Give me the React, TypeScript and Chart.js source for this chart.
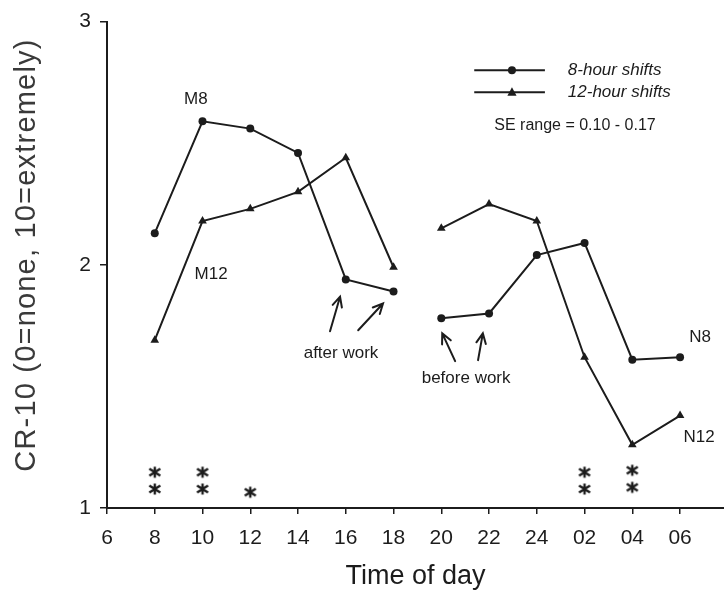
import { useEffect, useRef } from "react";
import { Chart, registerables } from "chart.js";

Chart.register(...registerables);

// Time-of-day axis labels (two-hourly, from 06:00 through the night to 06:00)
const hourLabels = ["6", "8", "10", "12", "14", "16", "18", "20", "22", "24", "02", "04", "06"];
const yTicks = [1, 2, 3];

// Times at which CR-10 ratings were collected
const measuredTimes = ["8", "10", "12", "14", "16", "18", "20", "22", "24", "02", "04", "06"];
const eightHour = [2.13, 2.59, 2.56, 2.46, 1.94, 1.89, 1.78, 1.8, 2.04, 2.09, 1.61, 1.62];
const twelveHour = [1.69, 2.18, 2.23, 2.3, 2.44, 1.99, 2.15, 2.25, 2.18, 1.62, 1.26, 1.38];

// Significance markers (asterisks) stacked above the time axis
const sigTimes = ["8", "8", "10", "10", "12", "02", "02", "04", "04"];
const sigLevels = [1.147, 1.078, 1.147, 1.078, 1.065, 1.147, 1.078, 1.155, 1.085];

// Day shift ends at 18, night shift starts at 20: no line across that break
const breakAfter = "18";

const yTitle = "CR-10 (0=none, 10=extremely)";
const xTitle = "Time of day";

const FONT = "'Liberation Sans', Arial, Helvetica, sans-serif";
const INK = "#1c1c1c";

const idx = (t: string) => hourLabels.indexOf(t);

type Note = { text: string; x: number; y: number; size: number };
const notes: Note[] = [
  { text: "M8", x: 1.86, y: 2.68, size: 17 },
  { text: "M12", x: 2.18, y: 1.96, size: 17 },
  { text: "N8", x: 12.42, y: 1.7, size: 17 },
  { text: "N12", x: 12.4, y: 1.29, size: 17 },
  { text: "after work", x: 4.9, y: 1.637, size: 17 },
  { text: "before work", x: 7.52, y: 1.535, size: 17 },
  { text: "SE range = 0.10 - 0.17", x: 9.8, y: 2.571, size: 16 },
];

// [tailX, tailY, headX, headY] in axis units
const arrows = [
  [4.67, 1.727, 4.88, 1.869],
  [5.26, 1.731, 5.78, 1.841],
  [7.29, 1.604, 7.02, 1.718],
  [7.77, 1.608, 7.87, 1.718],
];

// Legend rows: line from x0 to x1 with the marker at xm, label starting at xt
const legendRows = [
  { label: "8-hour shifts", style: "circle", y: 2.8 },
  { label: "12-hour shifts", style: "triangle", y: 2.71 },
];
const legendLine = { x0: 7.69, x1: 9.17, xm: 8.48, xt: 9.65 };

function makeAsterisk(): HTMLCanvasElement {
  const c = document.createElement("canvas");
  c.width = 14;
  c.height = 14;
  const g = c.getContext("2d")!;
  g.strokeStyle = INK;
  g.lineWidth = 2.4;
  g.lineCap = "butt";
  g.beginPath();
  g.moveTo(7, 1.5);
  g.lineTo(7, 12.5);
  g.moveTo(1.5, 3.5);
  g.lineTo(12.5, 10.5);
  g.moveTo(1.5, 10.5);
  g.lineTo(12.5, 3.5);
  g.stroke();
  return c;
}

function drawMarker(ctx: CanvasRenderingContext2D, style: string, x: number, y: number) {
  ctx.fillStyle = INK;
  ctx.beginPath();
  if (style === "circle") {
    ctx.arc(x, y, 4, 0, Math.PI * 2);
  } else {
    ctx.moveTo(x, y - 5);
    ctx.lineTo(x + 4.6, y + 3.5);
    ctx.lineTo(x - 4.6, y + 3.5);
    ctx.closePath();
  }
  ctx.fill();
}

const annotationPlugin = {
  id: "shiftAnnotations",
  afterDraw(chart: Chart) {
    const { ctx } = chart;
    const xs = chart.scales.x;
    const ys = chart.scales.y;
    ctx.save();
    ctx.fillStyle = INK;
    ctx.textBaseline = "middle";

    // vertical axis title, slightly spaced out
    ctx.save();
    ctx.translate(27, ys.getPixelForValue(2.04));
    ctx.rotate(-Math.PI / 2);
    ctx.font = `29px ${FONT}`;
    ctx.fillStyle = "#3a3a3a";
    (ctx as any).letterSpacing = "1.2px";
    ctx.textAlign = "center";
    ctx.fillText(yTitle, 0, 0);
    ctx.restore();

    for (const n of notes) {
      ctx.font = `${n.size}px ${FONT}`;
      ctx.textAlign = "center";
      ctx.fillText(n.text, xs.getPixelForValue(n.x), ys.getPixelForValue(n.y));
    }

    ctx.strokeStyle = INK;
    ctx.lineWidth = 2;
    ctx.lineCap = "round";
    for (const [tx, ty, hx, hy] of arrows) {
      const x0 = xs.getPixelForValue(tx);
      const y0 = ys.getPixelForValue(ty);
      const x1 = xs.getPixelForValue(hx);
      const y1 = ys.getPixelForValue(hy);
      const ang = Math.atan2(y1 - y0, x1 - x0);
      const len = 11;
      ctx.beginPath();
      ctx.moveTo(x0, y0);
      ctx.lineTo(x1, y1);
      ctx.moveTo(x1 - len * Math.cos(ang - 0.45), y1 - len * Math.sin(ang - 0.45));
      ctx.lineTo(x1, y1);
      ctx.lineTo(x1 - len * Math.cos(ang + 0.45), y1 - len * Math.sin(ang + 0.45));
      ctx.stroke();
    }

    // legend
    ctx.lineWidth = 2;
    ctx.lineCap = "butt";
    ctx.textAlign = "left";
    ctx.font = `italic 17px ${FONT}`;
    for (const row of legendRows) {
      const y = ys.getPixelForValue(row.y);
      ctx.beginPath();
      ctx.moveTo(xs.getPixelForValue(legendLine.x0), y);
      ctx.lineTo(xs.getPixelForValue(legendLine.x1), y);
      ctx.stroke();
      drawMarker(ctx, row.style, xs.getPixelForValue(legendLine.xm), y);
      ctx.fillStyle = INK;
      ctx.fillText(row.label, xs.getPixelForValue(legendLine.xt), y);
    }
    ctx.restore();
  },
};

export default function App() {
  const canvasRef = useRef<HTMLCanvasElement | null>(null);

  useEffect(() => {
    if (!canvasRef.current) return;
    const asterisk = makeAsterisk();
    const gapSegment = {
      borderColor: (c: any) =>
        hourLabels[Math.round(c.p0.parsed.x)] === breakAfter ? "rgba(0,0,0,0)" : INK,
    };

    const chart = new Chart(canvasRef.current, {
      type: "line",
      data: {
        datasets: [
          {
            label: "8-hour shifts",
            data: measuredTimes.map((t, i) => ({ x: idx(t), y: eightHour[i] })),
            borderColor: INK,
            backgroundColor: INK,
            borderWidth: 2,
            pointStyle: "circle",
            pointRadius: 4,
            pointBorderWidth: 0,
            segment: gapSegment,
          },
          {
            label: "12-hour shifts",
            data: measuredTimes.map((t, i) => ({ x: idx(t), y: twelveHour[i] })),
            borderColor: INK,
            backgroundColor: INK,
            borderWidth: 2,
            pointStyle: "triangle",
            pointRadius: 5,
            pointBorderWidth: 0,
            segment: gapSegment,
          },
          {
            label: "significant",
            data: sigTimes.map((t, i) => ({ x: idx(t), y: sigLevels[i] })),
            showLine: false,
            pointStyle: asterisk as any,
            pointRadius: 7,
          },
        ],
      },
      options: {
        animation: false,
        responsive: true,
        maintainAspectRatio: false,
        layout: { autoPadding: false, padding: { top: 6, right: 0, bottom: 0, left: 0 } },
        plugins: {
          legend: { display: false },
          tooltip: { enabled: false },
        },
        scales: {
          x: {
            type: "linear",
            min: 0,
            max: 12.92,
            afterBuildTicks: (s: any) => {
              s.ticks = hourLabels.map((_, i) => ({ value: i }));
            },
            afterFit: (s: any) => {
              s.height = 89;
              s.paddingLeft = 0;
              s.paddingRight = 0;
            },
            ticks: {
              callback: (v: any) => hourLabels[v],
              autoSkip: false,
              maxRotation: 0,
              padding: 12,
              color: INK,
              font: { family: FONT, size: 21 },
            },
            grid: { drawOnChartArea: false, tickLength: 6, color: INK, lineWidth: 1.5 },
            border: { color: INK, width: 2 },
            title: {
              display: true,
              text: xTitle,
              color: INK,
              font: { family: FONT, size: 27 },
              padding: { top: 0, bottom: 4 },
            },
          },
          y: {
            min: 1,
            max: 3,
            afterBuildTicks: (s: any) => {
              s.ticks = yTicks.map((v) => ({ value: v }));
            },
            afterFit: (s: any) => {
              s.width = 107;
            },
            ticks: {
              padding: 9,
              color: INK,
              font: { family: FONT, size: 21 },
            },
            grid: { drawOnChartArea: false, tickLength: 7, color: INK, lineWidth: 1.5 },
            border: { color: INK, width: 2 },
          },
        },
      },
      plugins: [annotationPlugin],
    });

    return () => chart.destroy();
  }, []);

  return (
    <div style={{ position: "fixed", left: 0, top: 0, width: 724, height: 597, background: "#fff" }}>
      <canvas ref={canvasRef} />
    </div>
  );
}
